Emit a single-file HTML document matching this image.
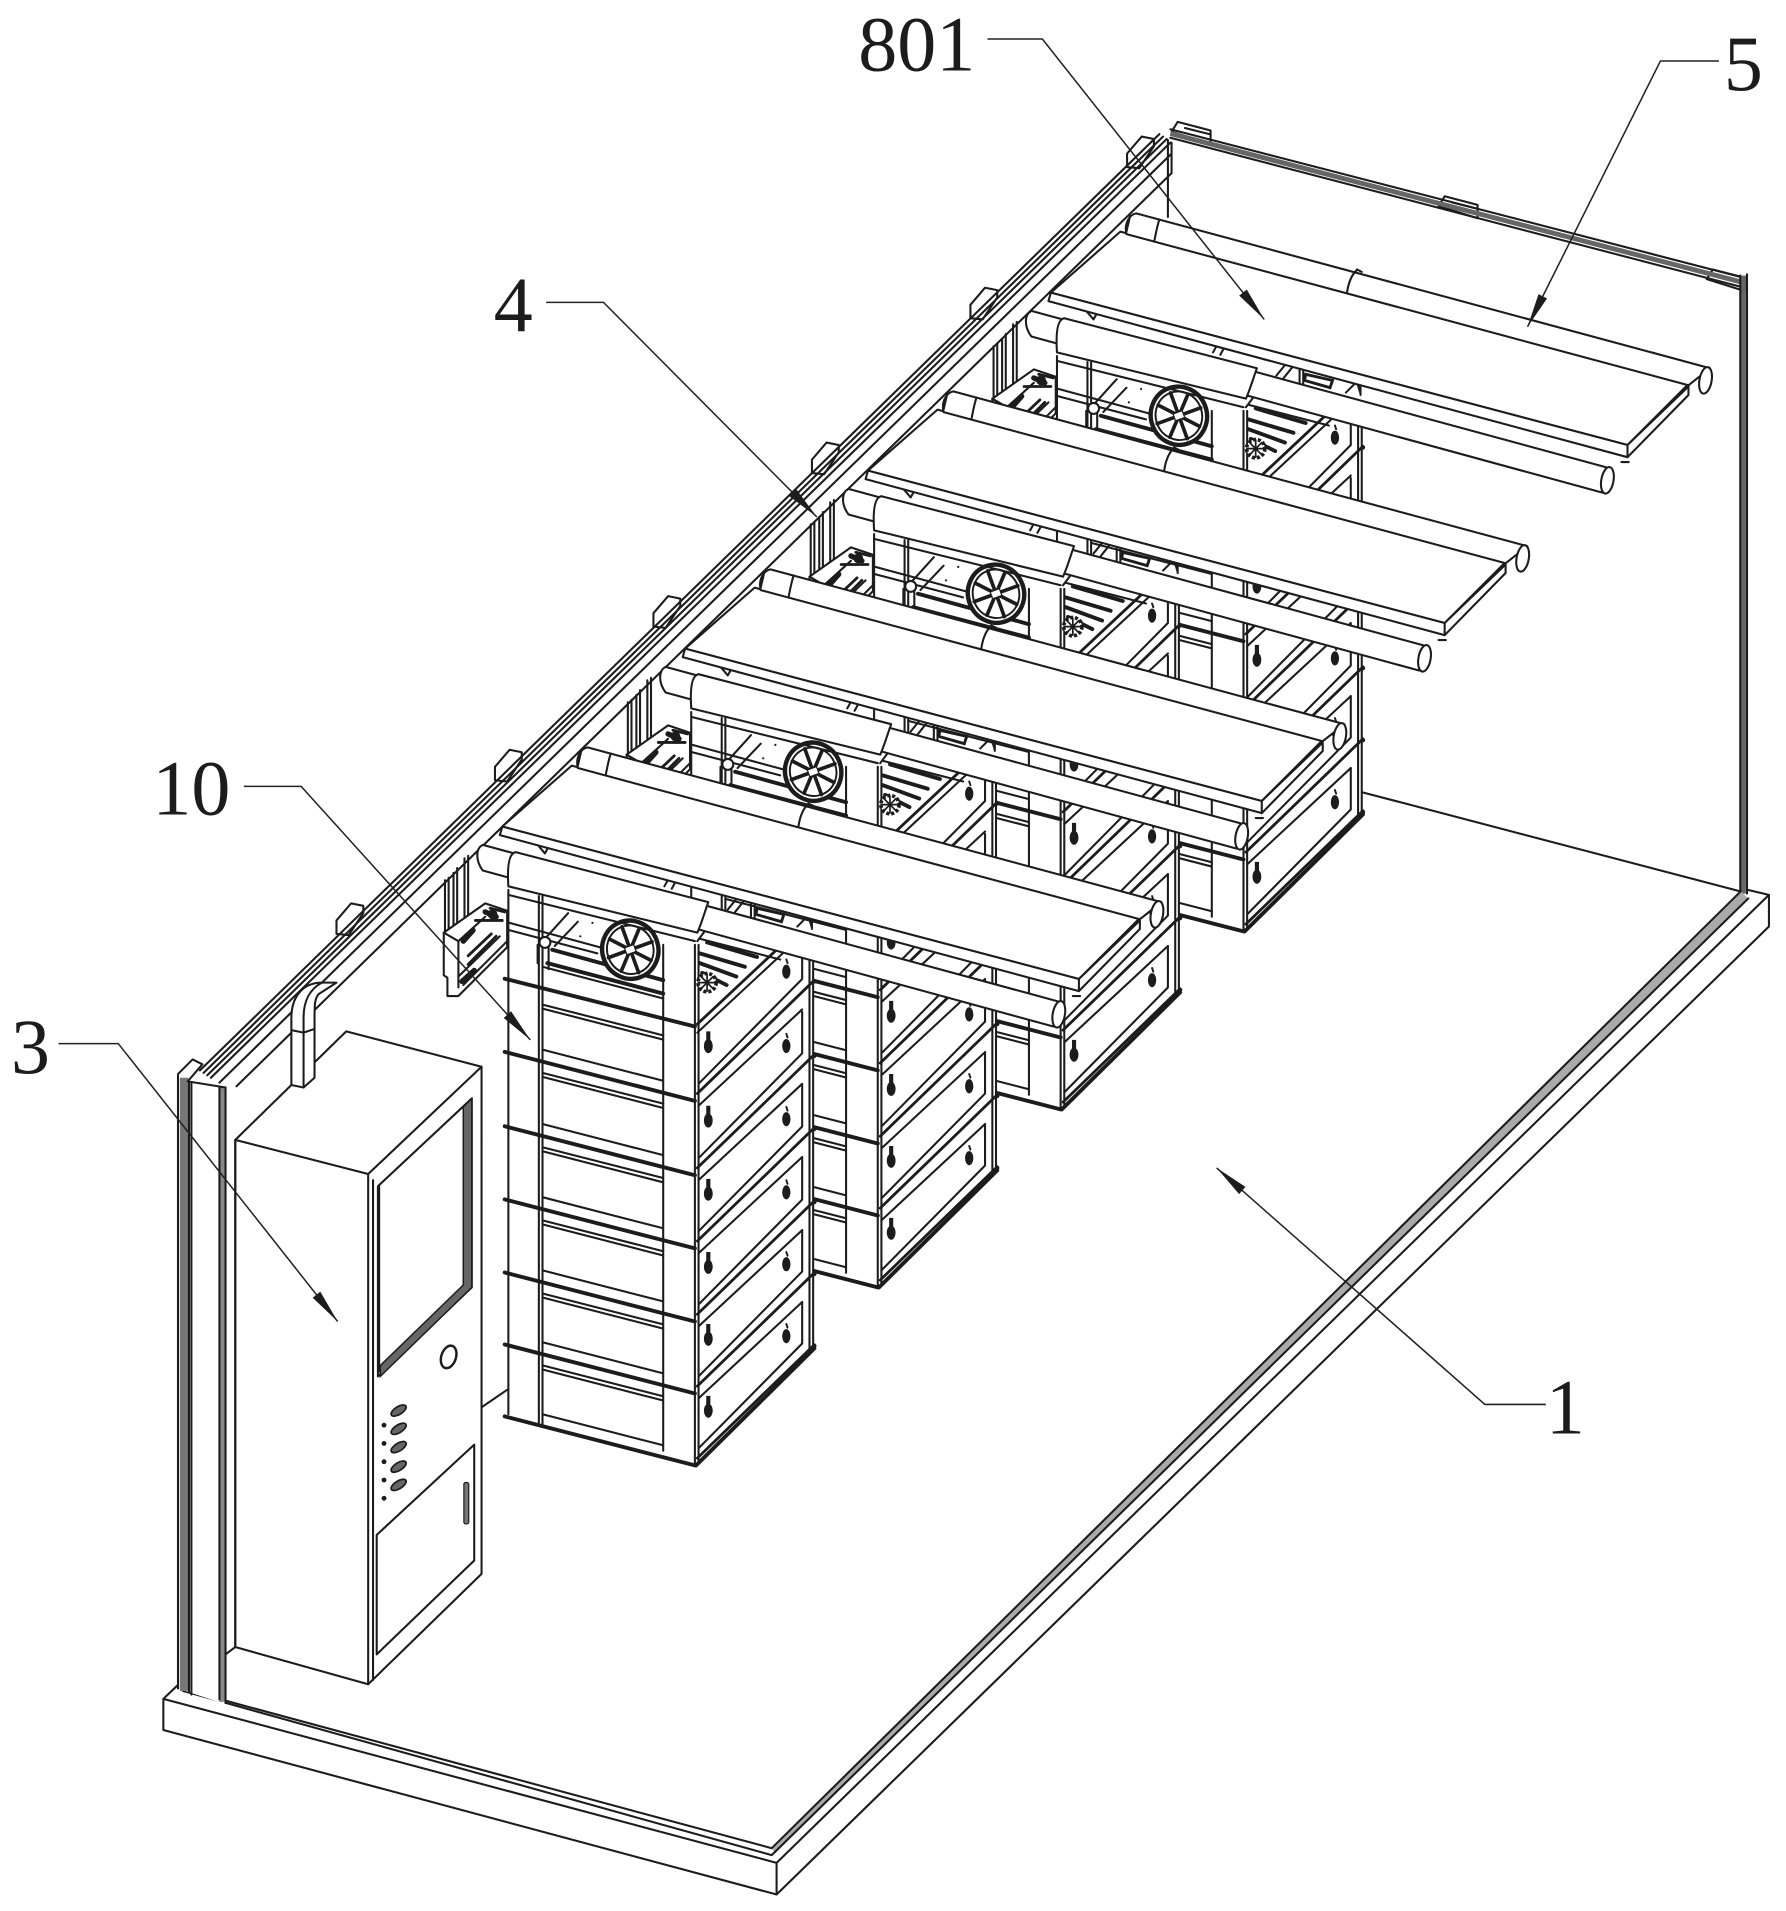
<!DOCTYPE html>
<html><head><meta charset="utf-8"><style>
html,body{margin:0;padding:0;background:#fff}
svg{display:block;width:1786px;height:1911px}
.l{fill:none;stroke:#1c1c1c;stroke-width:1.7;stroke-linejoin:round;stroke-linecap:round}
.f{fill:#fff;stroke:#1c1c1c;stroke-width:1.7;stroke-linejoin:round}
.t{stroke:#1c1c1c;stroke-width:3.2;fill:none;stroke-linecap:round}
.m{stroke:#1c1c1c;stroke-width:2.3;fill:none;stroke-linecap:round}
.k{fill:#1c1c1c;stroke:none}
.a{fill:none;stroke:#222;stroke-width:1.25}
text{font-family:"Liberation Serif",serif;font-size:64px;fill:#1c1c1c}
</style></head><body>
<svg xmlns="http://www.w3.org/2000/svg" viewBox="0 0 1465 1567.5">
<defs>
<path id="key" class="k" d="M-1.7,-11h3.4v7a3.6,5.8 0 1 1 -3.4,0z"/>
<g id="far"><ellipse cx="0" cy="2" rx="3.4" ry="5.8" class="k"/><path class="m" style="stroke-width:1.6" d="M0,-8 L1,-5"/></g>
<path id="tab" class="f" d="M0,11 V0 L12,-14 L22,-12 V-6 L10,12z"/>
<path id="btab" class="f" d="M-5,8 L0,0 L27,7 V18z"/>
<g id="b">
<path class="t" d="M414,-40.2 L570,0"/>
<path class="l" d="M445,-42 L544,-16.5"/>
<path class="l" d="M573,-14 L658,-100 V-134"/>
<path class="m" d="M572,-6 L668,-99"/>
<circle cx="668" cy="-98" r="1.8" class="k"/>
<use href="#key" x="581" y="-46"/><use href="#far" x="645" y="-108"/>
</g>
<g id="n">
<path class="l" d="M445,-23 L544,2.3 M445,-19.7 L544,5.8"/>
<path class="l" d="M573,4 L658,-75"/>
</g>
<g id="asm">
<path class="l" d="M365,722 V770 M368,720 V768 M372,716 V764 M375,712 V762 M381,704 V756 M384,702 V752"/>
<path fill="#fff" d="M417,700 L667,765 V1105 L570,1202 L417,1160z"/>
<use href="#b" y="903"/><use href="#n" y="903"/>
<use href="#b" y="964"/><use href="#n" y="964"/>
<use href="#b" y="1024"/><use href="#n" y="1024"/>
<use href="#b" y="1084"/><use href="#n" y="1084"/>
<use href="#b" y="1143"/><use href="#n" y="1143"/>
<use href="#b" y="1202"/>
<path class="t" d="M571,1202 L668,1106"/>
<path class="l" d="M417,730 V1160 M442,735 V1167 M445,735 V1168 M544,775 V1190 M570,775 V1202 M573,775 V1199 M664,786 V1108 M667,786 V1105"/>
<path class="m" d="M572,840 L636,780"/>
<path class="l" d="M572,847 L642,782"/>
<path class="t" d="M414,802.8 L570,842"/>
<path class="l" d="M445,824 L544,849.3 M445,827.3 L544,852.8"/>
<path class="l" d="M418,757 L492,777 M418,763 L490,782 M445,793 L544,819"/>
<path class="t" d="M453,779 L544,804 M449,790 L544,815"/>
<path class="l" d="M447,770 L466,749 M455,776 L474,756 M441,775 L441,790 M450,775 V795"/>
<circle cx="447" cy="773" r="4.5" class="f"/>
<circle cx="476" cy="768" r=".9" class="k"/><circle cx="486" cy="757" r=".9" class="k"/>
<path class="t" d="M580,773 L621,785 M574,782 L611,793 M574,790 L604,801 M576,798 L596,808"/>
<circle cx="580" cy="806" r="7.5" fill="#fff" stroke="#1c1c1c" stroke-width="3" stroke-dasharray="2.5 1.6"/>
<path class="l" style="stroke-width:1.4" d="M573,806 H587 M580,799 V813 M575,801 L585,811 M575,811 L585,801"/>
<path class="l" d="M574,770 L640,787"/>
<g transform="translate(517,779) rotate(-20)">
<ellipse rx="23" ry="24" fill="#fff" stroke="#1c1c1c" stroke-width="3.6"/>
<ellipse rx="19" ry="20" fill="none" stroke="#1c1c1c" stroke-width="1.6"/>
<path class="l" style="stroke-width:3" d="M-19,0 H19 M0,-20 V20 M-13,-14 L13,14 M-13,14 L13,-14"/>
<rect x="-4" y="-3" width="8" height="6" fill="#fff" stroke="#1c1c1c"/>
</g>
<path class="f" d="M364,765 L398,741 L416,747 V777 L376,817 L367,817 V802 L364,800z"/>
<path class="l" d="M364,765 L376,772 V810 M376,772 L398,752 M380,808 L416,772 M376,801 L410,768"/>
<path class="t" style="stroke-width:4.4" d="M380,772 L388,763 M379,805 L389,796 M398,748 L407,752"/>
<path class="m" d="M384,791 L407,768 M384,784 L403,766 M390,755 L412,755 M402,745 L414,748"/>
<circle cx="404" cy="750" r="4" class="k"/>
<path class="l" d="M441,693 L447,700 L452,691 M545,727 L551,716 M551,729 L557,718 M597,746 L606,735 M603,748 L611,738 M616,738 V752 M619,739 V753 M654,760 L663,751 L666,761 M666,750 V762"/>
<path d="M621,745 L643,750 L641,756 L620,750z" fill="#fff" stroke="#1c1c1c" stroke-width="2.4"/>
<path class="f" d="M469,628 L935,753 L885,803 L412,678z"/>
<path class="f" d="M412,678 L885,803 L935,755 L935,762 L885,813 L410,685z"/>
<path class="l" d="M885,803 V813 M880,817 H886"/>
<path class="f" d="M474,630 C472,622 476,614 482,613 L952.7,740 L935,754 z"/>
<path class="l" d="M474,628 L477,615 M501,618 C499,624 498,630 497,635 M663,659.5 C658,664 656,671 655,677.5 M663,659 L667,661"/>
<ellipse cx="949" cy="750" rx="5" ry="11" transform="rotate(10 949 750)" class="f"/>
<path class="f" d="M396,693 L870,822 L864,842 L396,714 C390,706 390,696 396,693z"/>
<ellipse cx="868.5" cy="832" rx="5" ry="11" transform="rotate(10 868.5 832)" class="f"/>
<path class="f" d="M417,727 C416,712 417,700 423,699 L581,740 C578,748 576,756 572,765z"/>
<path class="l" d="M417,734 L570,772 M572,772 L578,764"/>
</g>
</defs>

<use href="#btab" x="966" y="100"/><use href="#btab" x="1185" y="161"/><use href="#btab" x="1405" y="221"/>
<path class="l" d="M972,105 L992,110 M1191,166 L1211,171 M1411,226 L1430,231"/>
<path d="M960,109.5 L1431,232" stroke="#666" stroke-width="4" fill="none"/>
<path class="l" d="M960,106 L1431,228 M960,113 L1431,236"/>
<path d="M1430,226 V733" stroke="#666" stroke-width="4.2"/>
<path class="l" d="M1427.5,226 V733 M1433,225 V733 M1118,650 L1427,731"/>
<use href="#tab" x="924.5" y="126"/><use href="#tab" x="796" y="250"/><use href="#tab" x="666" y="377"/><use href="#tab" x="536" y="503"/><use href="#tab" x="406" y="629"/><use href="#tab" x="276" y="755"/>
<path class="l" d="M951,110 L164,878 M954,112 L167,880 M957,114 L170,882 M960,117 L173,884 M961,126 L180,888 M961,142 L194,891 M958,115 V178 M961,117 V142"/>
<path class="l" d="M394,1155 L416,1140"/>

<path d="M633,1516 L1428,731 L1434,737 L636,1520z" fill="#aaa" stroke="none"/>
<path class="l" d="M134,1393.5 L637,1528 L1451,734 V760 L637,1554 L134,1419z M637,1528 V1554 M185,1395 L633,1516 L1428,731 M150,1387 L633,1521.7 L1434,737 M1434,730 L1451,734 M134,1393.5 L146,1382"/>

<use href="#asm" transform="translate(450,-438)"/>
<use href="#asm" transform="translate(300,-292)"/>
<use href="#asm" transform="translate(150,-146)"/>
<use href="#asm"/>

<path d="M146,882 L154,887 L185,892 V1398 L146,1385z" fill="#fff"/>
<rect x="147.5" y="884" width="7" height="503" fill="#777"/>
<rect x="180" y="892" width="4.5" height="504" fill="#888"/>
<path class="l" d="M146,882 V1385 M155,887 V1388 M157,888 V1390 M180,892 V1394 M185,892 V1397 M146,881 L158,869 L166,873 L154,887 M154,887 L185,892"/>

<path class="f" d="M193,935 L284,846 L395,875 V1291 L302,1381.5 L193,1351z"/>
<path class="f" d="M239,890 V835 C239,818 248,806 264,806 L276,806 L262,815 C258,818 258,825 258,835 V884 L249,892z"/>
<path class="l" d="M249,892 V835 C249,822 253,812 264,806 M239,845 L249,847 L258,844 M193,935 L302,963 L395,875 M302,963 V1381.5 M306,968 V1378 M193,935 V1351 M185,1357 L193,1351"/>
<path class="f" d="M310,973 L387,901 V1056 L310,1129z"/>
<path d="M380,908 L387,901 V1056 L312,1129 V1120 L380,1054z" fill="#666" stroke="#1c1c1c" stroke-width="1.2"/>
<path class="l" d="M311,973 V1125"/>
<ellipse cx="368" cy="1113" rx="6" ry="9.5" transform="rotate(18 368 1113)" fill="#fff" stroke="#1c1c1c" stroke-width="2"/>
<g fill="#666" stroke="#1c1c1c" stroke-width="1.4">
<ellipse cx="327" cy="1157" rx="7" ry="3.2" transform="rotate(-32 327 1157)"/>
<ellipse cx="327" cy="1172" rx="7" ry="3.2" transform="rotate(-32 327 1172)"/>
<ellipse cx="327" cy="1187" rx="7" ry="3.2" transform="rotate(-32 327 1187)"/>
<ellipse cx="327" cy="1203" rx="7" ry="3.2" transform="rotate(-32 327 1203)"/>
<ellipse cx="327" cy="1218" rx="7" ry="3.2" transform="rotate(-32 327 1218)"/>
</g>
<g class="k"><circle cx="315" cy="1169" r="2"/><circle cx="315" cy="1184" r="2"/><circle cx="315" cy="1199" r="2"/><circle cx="315" cy="1214" r="2"/><circle cx="315" cy="1229" r="2"/></g>
<path class="f" d="M309,1259 L389,1185 V1280 L309,1357z"/>
<rect x="380.5" y="1216" width="4" height="34" fill="#777" stroke="#1c1c1c" rx="1.5"/>

<path class="a" d="M810,32 H855 L1037,262"/><polygon class="k" points="1037,262 1022.7,237.5 1016.5,242.5"/>
<path class="a" d="M1410,50 H1362 L1253,268"/><polygon class="k" points="1253,268 1269,244.8 1262,241.2"/>
<path class="a" d="M448,248 H495 L670,424"/><polygon class="k" points="670,424 653,401 647.5,407"/>
<path class="a" d="M200,645 H247 L435,853"/><polygon class="k" points="435,853 419.2,829.5 413.2,835"/>
<path class="a" d="M48,856 H97 L277,1084"/><polygon class="k" points="277,1084 262.7,1059.5 256.5,1064.5"/>
<path class="a" d="M1268,1152 H1218 L998,958"/><polygon class="k" points="998,958 1021.6,973.5 1016.4,979.5"/>

<text x="704" y="58">801</text>
<text x="1414" y="74">5</text>
<text x="405" y="272">4</text>
<text x="125" y="668">10</text>
<text x="9" y="880">3</text>
<text x="1268" y="1176">1</text>
</svg>
</body></html>
